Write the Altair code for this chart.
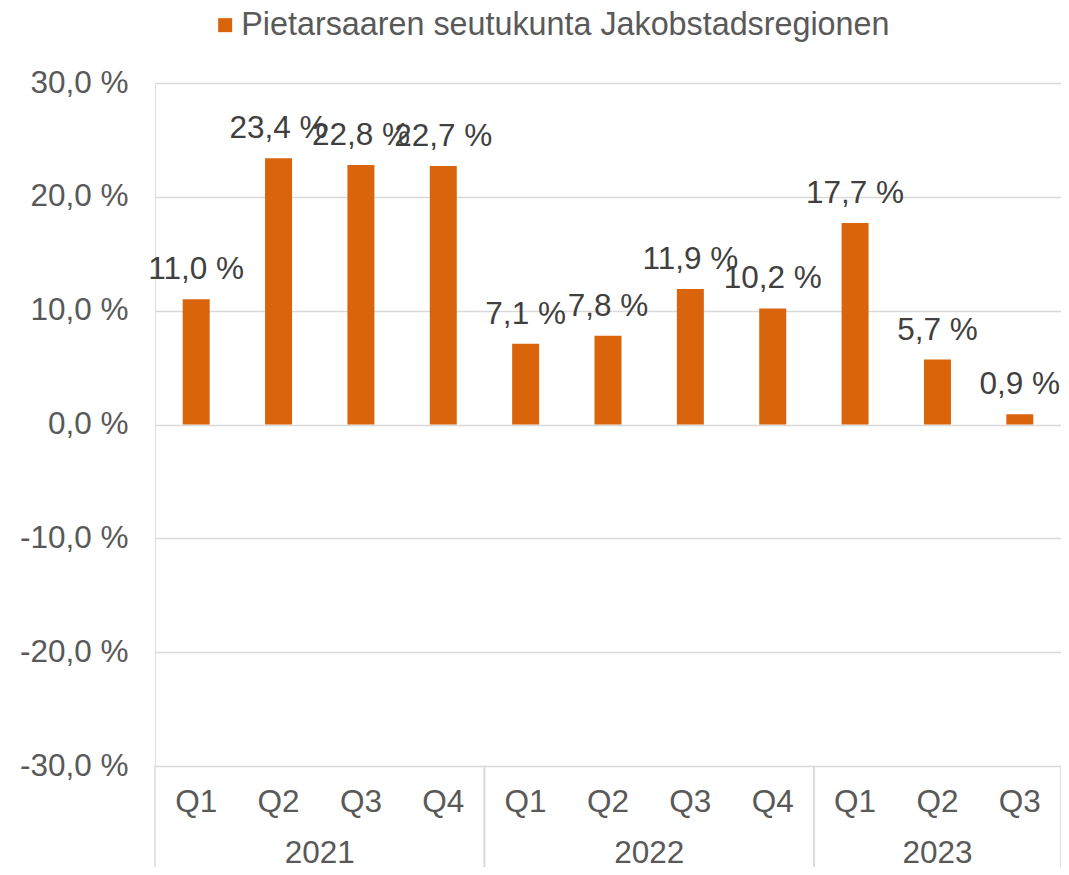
import altair as alt
import pandas as pd

years = ["2021", "2021", "2021", "2021", "2022", "2022", "2022", "2022", "2023", "2023", "2023"]
quarters = ["Q1", "Q2", "Q3", "Q4", "Q1", "Q2", "Q3", "Q4", "Q1", "Q2", "Q3"]
values = [11.0, 23.4, 22.8, 22.7, 7.1, 7.8, 11.9, 10.2, 17.7, 5.7, 0.9]
series_name = "Pietarsaaren seutukunta Jakobstadsregionen"

df = pd.DataFrame({"year": years, "quarter": quarters, "value": values, "series": series_name})

W, H = 906, 683
BOTTOM = 101
FONT = "Liberation Sans"
FS = 31.5
ORANGE = "#D9640C"
GRID = "#D9D9D9"

base = alt.Chart(df).transform_window(
    rn="row_number()"
).transform_calculate(
    pos="datum.rn - 0.5",
    label="replace(format(datum.value, '.1f'), '.', ',') + ' %'",
)

xscale = alt.Scale(domain=[0, 11], nice=False, zero=False, padding=0)
yscale = alt.Scale(domain=[-30, 30], nice=False, padding=0)

bars = base.mark_bar(size=27).encode(
    x=alt.X("pos:Q", scale=xscale, axis=None),
    y=alt.Y(
        "value:Q",
        scale=yscale,
        axis=alt.Axis(
            values=[-30, -20, -10, 0, 10, 20, 30],
            labelExpr="(datum.value < 0 ? '-' : '') + replace(format(abs(datum.value), '.1f'), '.', ',') + ' %'",
            labelFont=FONT,
            labelFontSize=FS,
            labelColor="#595959",
            labelPadding=27,
            domain=False,
            ticks=False,
            grid=True,
            gridColor=GRID,
            gridWidth=1.5,
            title=None,
        ),
    ),
    y2=alt.datum(0),
    color=alt.Color(
        "series:N",
        scale=alt.Scale(range=[ORANGE]),
        legend=alt.Legend(
            title=None,
            orient="none",
            legendX=54,
            legendY=-74,
            symbolType="square",
            symbolSize=196,
            symbolStrokeWidth=0,
            labelFont=FONT,
            labelFontSize=32.3,
            labelColor="#595959",
            labelOffset=0,
            labelLimit=2000,
            padding=0,
        ),
    ),
)

labels = base.mark_text(
    font=FONT, fontSize=FS, color="#404040", baseline="middle", align="center", dy=-29
).encode(
    x=alt.X("pos:Q", scale=xscale),
    y=alt.Y("value:Q", scale=yscale),
    text="label:N",
)

qlabels = base.mark_text(
    font=FONT, fontSize=FS, color="#595959", baseline="middle", align="center"
).encode(
    x=alt.X("pos:Q", scale=xscale),
    y=alt.value(H + 37),
    text="quarter:N",
)

groups = base.transform_aggregate(
    minpos="min(pos)", maxpos="max(pos)", groupby=["year"]
).transform_calculate(
    left="datum.minpos - 0.5",
    right="datum.maxpos + 0.5",
    center="(datum.minpos + datum.maxpos) / 2",
)

ylabels = groups.mark_text(
    font=FONT, fontSize=FS, color="#595959", baseline="alphabetic", align="center"
).encode(
    x=alt.X("center:Q", scale=xscale),
    y=alt.value(H + 97),
    text="year:N",
)

sep_left = groups.mark_rule(color=GRID, strokeWidth=1.5).encode(
    x=alt.X("left:Q", scale=xscale),
    y=alt.value(H),
    y2=alt.value(H + BOTTOM),
)
sep_right = groups.mark_rule(color=GRID, strokeWidth=1.5).encode(
    x=alt.X("right:Q", scale=xscale),
    y=alt.value(H),
    y2=alt.value(H + BOTTOM),
)

chart = alt.layer(bars, labels, qlabels, ylabels, sep_left, sep_right).properties(
    width=W,
    height=H,
    autosize=alt.AutoSizeParams(type="none"),
    padding={"left": 147, "top": 75, "right": 0, "bottom": BOTTOM},
).configure_view(strokeWidth=0).configure(background="white")

chart.save("out.html", embed_options={"renderer": "svg", "actions": False})
